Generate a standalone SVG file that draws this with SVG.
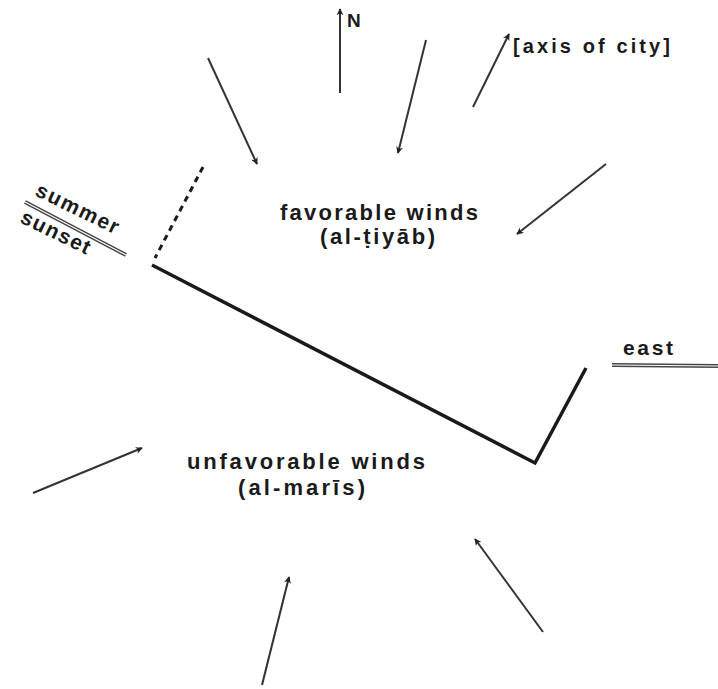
<svg xmlns="http://www.w3.org/2000/svg" width="718" height="689" viewBox="0 0 718 689">
<defs>
<marker id="ah" viewBox="0 0 10 10" refX="9" refY="5" markerWidth="7" markerHeight="7" orient="auto" markerUnits="userSpaceOnUse">
<path d="M0,0 L10,5 L0,10 L3,5 Z" fill="#222"/>
</marker>
<style>
.t{font-family:"Liberation Sans",Arial,sans-serif;font-weight:bold;fill:#1a1a1a}
.a{stroke:#333;stroke-width:2;fill:none;marker-end:url(#ah)}
.w{stroke:#1a1a1a;stroke-width:3.5;fill:none}
.dbl{stroke:#444;stroke-width:4;fill:none}
.dbl2{stroke:#fff;stroke-width:1.2;fill:none}
</style>
</defs>
<rect width="718" height="689" fill="#fff"/>
<g id="connectors">
<line class="a" x1="340" y1="93" x2="340" y2="9"/>
<line class="a" x1="426" y1="40" x2="398" y2="153"/>
<line class="a" x1="473" y1="107" x2="509" y2="34"/>
<line class="a" x1="208" y1="58" x2="257" y2="164"/>
<line class="a" x1="606" y1="164" x2="517" y2="234"/>
<line class="a" x1="33" y1="493" x2="142" y2="448"/>
<line class="a" x1="543" y1="632" x2="475" y2="539"/>
<line class="a" x1="262" y1="685" x2="289" y2="577"/>
</g>
<g id="wall">
<polyline class="w" points="152,265 535,463 586,368"/>
<line x1="203" y1="167" x2="155" y2="258" stroke="#1a1a1a" stroke-width="3" stroke-dasharray="6,5"/>
</g>
<g id="summer-sunset">
<line class="dbl" x1="25" y1="202" x2="126" y2="255"/>
<line class="dbl2" x1="25" y1="202" x2="126" y2="255"/>
<text class="t" font-size="21" textLength="90" transform="translate(34,195) rotate(26)">summer</text>
<text class="t" font-size="21" textLength="75" transform="translate(19,222) rotate(26)">sunset</text>
</g>
<g id="east">
<line class="dbl" x1="612" y1="365" x2="718" y2="366"/>
<line class="dbl2" x1="612" y1="365" x2="718" y2="366"/>
<text class="t" font-size="21" x="623" y="355" textLength="50">east</text>
</g>
<g id="north">
<text class="t" font-size="19" x="347" y="27">N</text>
</g>
<g id="axis">
<text class="t" font-size="20" x="513" y="53" textLength="157">[axis of city]</text>
</g>
<g id="favorable">
<text class="t" font-size="22" x="280" y="220" textLength="198">favorable  winds</text>
<text class="t" font-size="22" x="320" y="244" textLength="115">(al-ṭiyāb)</text>
</g>
<g id="unfavorable">
<text class="t" font-size="22" x="187" y="469" textLength="238">unfavorable  winds</text>
<text class="t" font-size="22" x="238" y="495" textLength="127">(al-marīs)</text>
</g>
</svg>
